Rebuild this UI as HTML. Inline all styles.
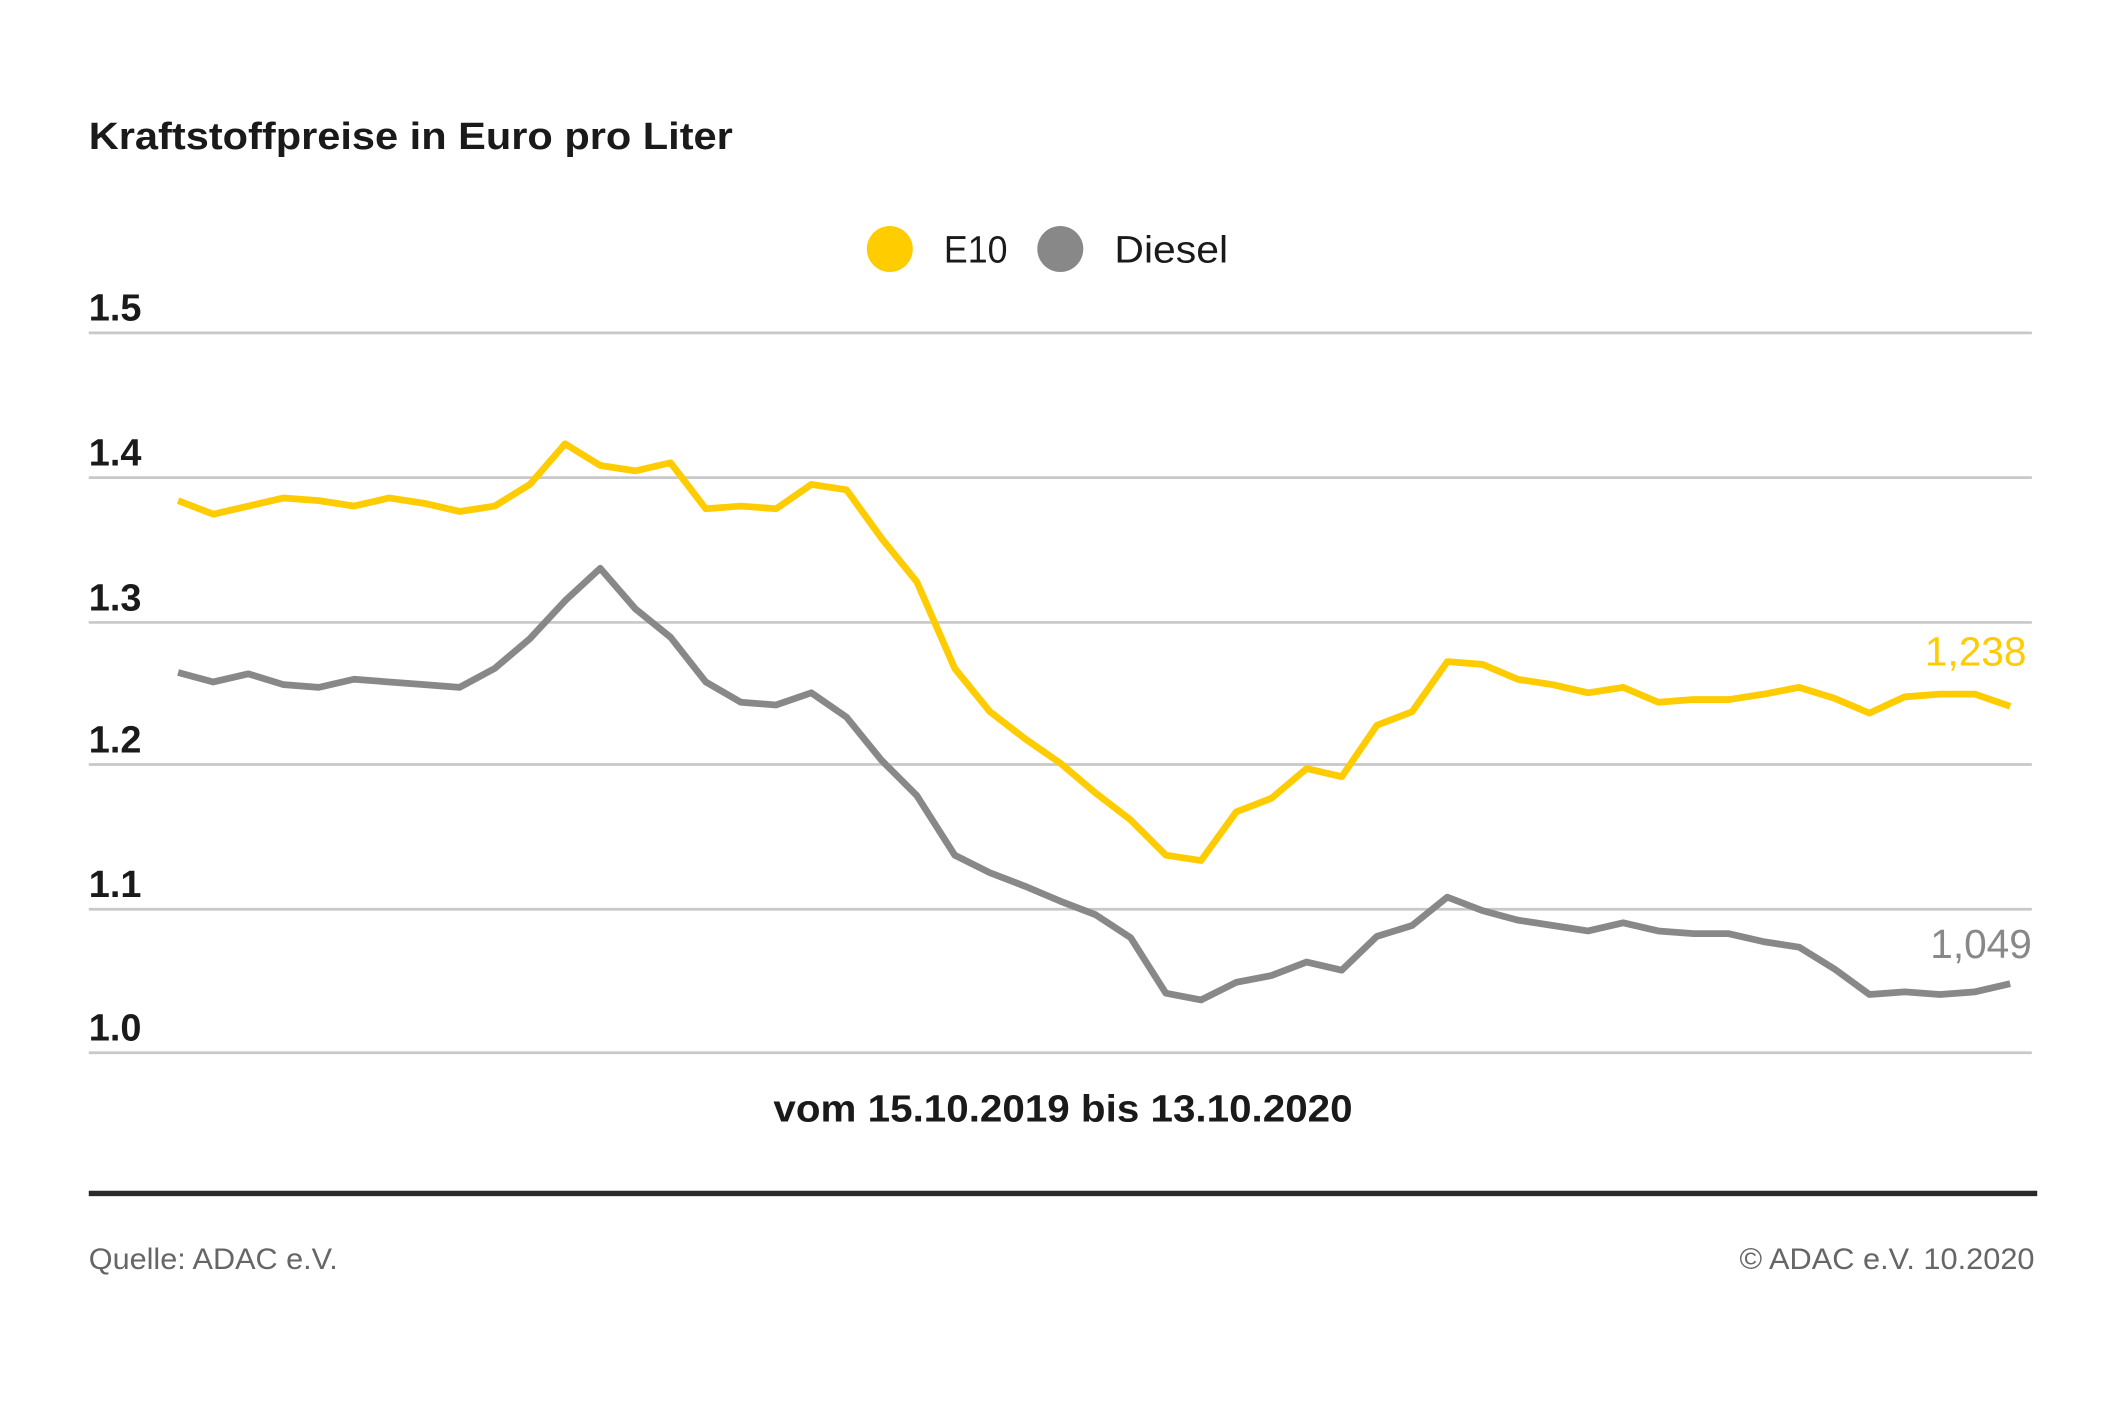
<!DOCTYPE html>
<html><head><meta charset="utf-8"><style>
html,body{margin:0;padding:0;background:#fff;}
svg{display:block;}
text{font-family:"Liberation Sans",sans-serif;}
</style></head><body>
<svg width="2126" height="1414" viewBox="0 0 1568 1045" xmlns="http://www.w3.org/2000/svg">
<rect width="1568" height="1045" fill="#fff"/>
<text x="64" y="110" font-size="28" font-weight="bold" fill="#1a1a1a" textLength="476" lengthAdjust="spacingAndGlyphs">Kraftstoffpreise in Euro pro Liter</text>
<circle cx="656" cy="184" r="17" fill="#ffcc00"/>
<text x="696" y="194" font-size="28" fill="#1a1a1a" textLength="47" lengthAdjust="spacingAndGlyphs">E10</text>
<circle cx="782" cy="184" r="17" fill="#888"/>
<text x="822" y="194" font-size="28" fill="#1a1a1a" textLength="84" lengthAdjust="spacingAndGlyphs">Diesel</text>
<g stroke="#c8c8c8" stroke-width="2">
<line x1="64" y1="246" x2="1500" y2="246"/>
<line x1="64" y1="353" x2="1500" y2="353"/>
<line x1="64" y1="460" x2="1500" y2="460"/>
<line x1="64" y1="565" x2="1500" y2="565"/>
<line x1="64" y1="672" x2="1500" y2="672"/>
<line x1="64" y1="778" x2="1500" y2="778"/>
</g>
<g font-size="28" font-weight="bold" fill="#1a1a1a">
<text x="64" y="237">1.5</text>
<text x="64" y="344">1.4</text>
<text x="64" y="451">1.3</text>
<text x="64" y="556">1.2</text>
<text x="64" y="663">1.1</text>
<text x="64" y="769">1.0</text>
</g>
<polyline fill="none" stroke="#ffcc00" stroke-width="5" stroke-linejoin="round" points="130,370 156,380 182,374 208,368 234,370 260,374 286,368 312,372 338,378 364,374 390,358 416,328 442,344 468,348 494,342 520,376 546,374 572,376 598,358 624,362 650,398 676,430 704,494 730,526 756,546 782,564 808,586 834,606 860,632 886,636 912,600 938,590 964,568 990,574 1016,536 1042,526 1068,489 1094,491 1120,502 1146,506 1172,512 1198,508 1224,519 1250,517 1276,517 1302,513 1328,508 1354,516 1380,527 1406,515 1432,513 1458,513 1484,522"/>
<polyline fill="none" stroke="#888" stroke-width="5" stroke-linejoin="round" points="130,497 156,504 182,498 208,506 234,508 260,502 286,504 312,506 338,508 364,494 390,472 416,444 442,420 468,450 494,471 520,504 546,519 572,521 598,512 624,530 650,562 676,588 704,632 730,645 756,655 782,666 808,676 834,693 860,734 886,739 912,726 938,721 964,711 990,717 1016,692 1042,684 1068,663 1094,673 1120,680 1146,684 1172,688 1198,682 1224,688 1250,690 1276,690 1302,696 1328,700 1354,716 1380,735 1406,733 1432,735 1458,733 1484,727"/>
<text x="1496" y="492" font-size="30" fill="#ffcc00" text-anchor="end">1,238</text>
<text x="1500" y="708" font-size="30" fill="#888" text-anchor="end">1,049</text>
<text x="570" y="829" font-size="28" font-weight="bold" fill="#1a1a1a" textLength="428" lengthAdjust="spacingAndGlyphs">vom 15.10.2019 bis 13.10.2020</text>
<rect x="64" y="880" width="1440" height="4" fill="#2a2a2a"/>
<text x="64" y="938" font-size="22" fill="#666" textLength="184" lengthAdjust="spacingAndGlyphs">Quelle: ADAC e.V.</text>
<text x="1284" y="938" font-size="22" fill="#666" textLength="218" lengthAdjust="spacingAndGlyphs">© ADAC e.V. 10.2020</text>
</svg>
</body></html>
